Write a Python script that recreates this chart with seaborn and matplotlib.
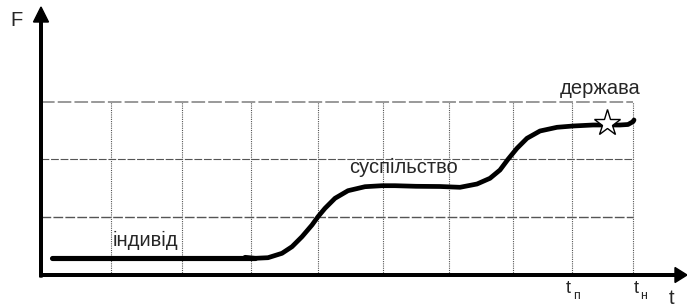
import seaborn as sns
import matplotlib.pyplot as plt

# data (t and F in chart units, origin at the axes corner)
grid_t = [70, 141, 210, 277, 342, 408, 472, 531, 592]
grid_F = [58, 116, 173]

# initial flat stage (individual)
t_start = [11, 110, 214]
F_start = [17.5, 17.5, 17.5]

# growth curve
t_curve = [204, 214, 227, 241, 251, 261, 271, 277, 284, 294, 307, 324,
           341, 354, 375, 399, 419, 436, 449, 459, 467, 476, 486, 499,
           516, 532, 552, 566, 579, 587, 592, 593]
F_curve = [17.7, 16.7, 17.3, 21.7, 28.3, 38.3, 50, 58.3, 66.7, 76.7, 84.3, 88.3,
           89.3, 89.3, 88.7, 88.5, 87.7, 91, 96.7, 105, 115.7, 126.7, 136.7, 144,
           147.7, 149, 150, 150, 150, 150.5, 153.3, 155]

star_t = [566]
star_F = [152]

sns.set_style("white")
plt.rcParams['font.family'] = ['Liberation Sans', 'DejaVu Sans']

fig = plt.figure(figsize=(6.87, 3.07), dpi=100)
ax = fig.add_axes([0, 0, 1, 1])
ax.set_xlim(-41, 646)
ax.set_ylim(-32, 275)
ax.axis('off')

# grid
for gt in grid_t:
    ax.plot([gt, gt], [0, grid_F[-1]], color='#555555', lw=0.8, ls=(0, (1, 1)), zorder=1)
hstyles = [('#555555', 1.0), ('#555555', 0.8), ('#999999', 1.4)]
for gf, (c, w) in zip(grid_F, hstyles):
    ax.plot([0, grid_t[-1]], [gf, gf], color=c, lw=w, ls=(0, (7, 1.6)), zorder=1)

# curve
sns.lineplot(x=t_start, y=F_start, color='black', linewidth=3.7, ax=ax, zorder=3)
sns.lineplot(x=t_curve, y=F_curve, color='black', linewidth=3.4, ax=ax, zorder=3,
             sort=False, solid_joinstyle='round', solid_capstyle='round')
ax.plot(star_t, star_F, marker='*', markersize=20, markerfacecolor='white',
        markeredgecolor='black', markeredgewidth=1.0, ls='none', zorder=4)

# axes with arrows
ax.arrow(-1, 0, 647, 0, width=2.6, head_width=15, head_length=12,
         length_includes_head=True, color='black', zorder=5)
ax.arrow(0, -2, 0, 270, width=2.6, head_width=15, head_length=15,
         length_includes_head=True, color='black', zorder=5)

# labels
ax.text(-24, 255, 'F', fontsize=14.5, ha='center', va='center')
ax.text(630.5, -23.5, 't', fontsize=14.5, ha='center', va='center')
ax.text(104, 35, 'індивід', fontsize=14.5, ha='center', va='center')
ax.text(363, 108, 'суспільство', fontsize=14.5, ha='center', va='center')
ax.text(559, 186, 'держава', fontsize=14.5, ha='center', va='center')
ax.text(527.5, -13.5, 't', fontsize=13, ha='center', va='center')
ax.text(535, -21, 'п', fontsize=9, ha='center', va='center')
ax.text(595.5, -13.5, 't', fontsize=13, ha='center', va='center')
ax.text(603, -21, 'н', fontsize=9, ha='center', va='center')

plt.savefig('out.png', dpi=100)
